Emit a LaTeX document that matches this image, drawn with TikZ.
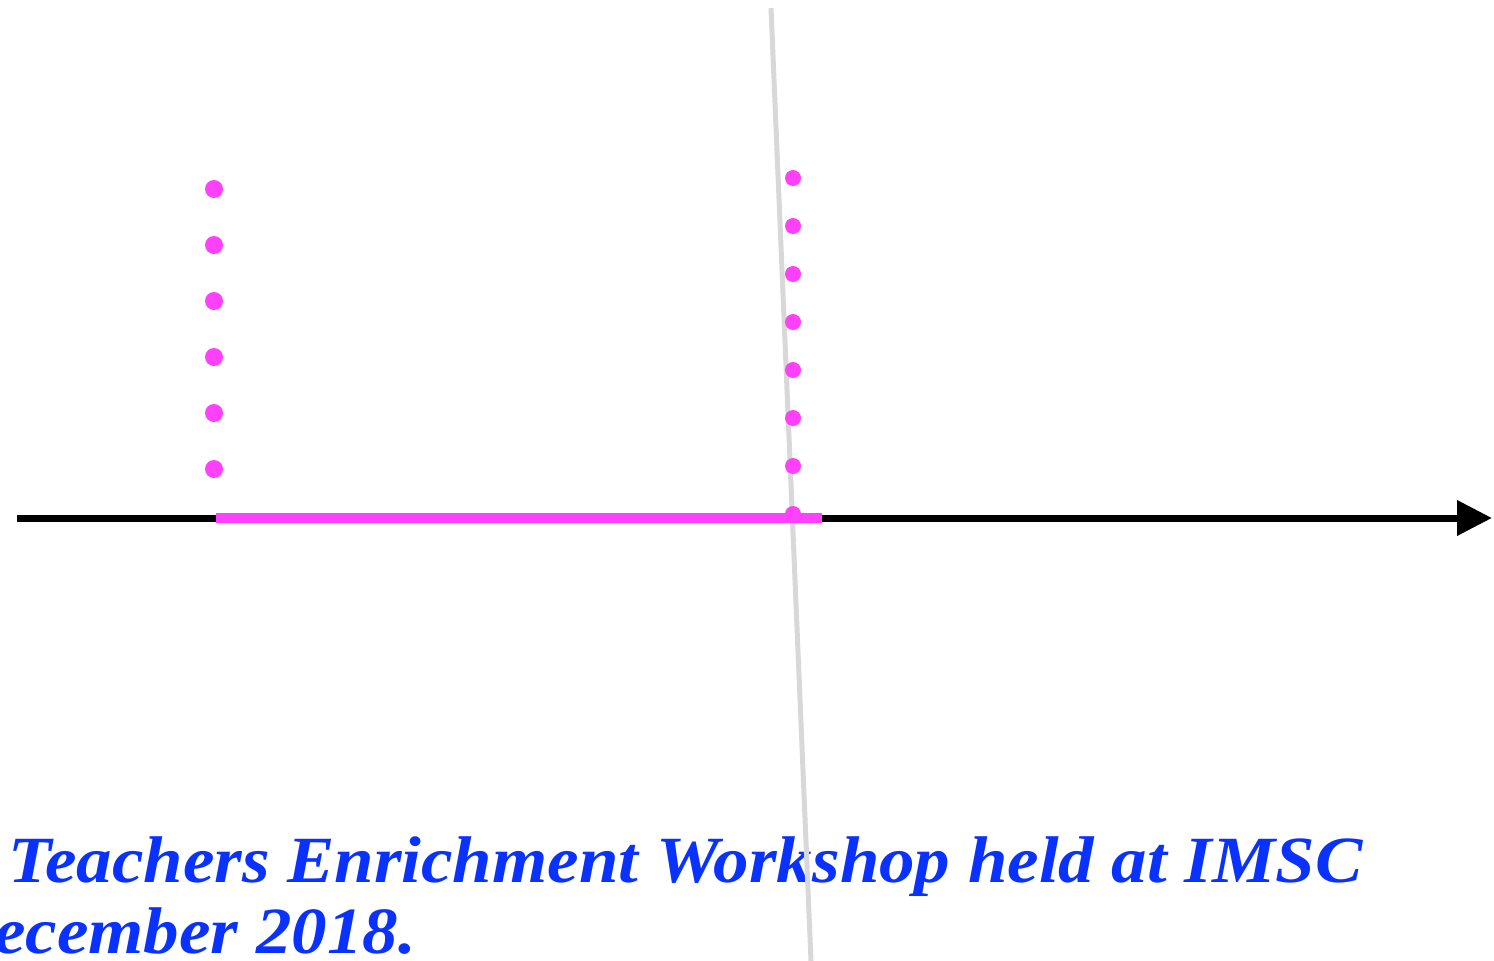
\documentclass[tikz,border=0pt]{standalone}
\usepackage{fontspec}
\setmainfont{Liberation Serif}
\usepackage{tikz}
\usepackage{xcolor}
\usetikzlibrary{arrows.meta}
\definecolor{dotpink}{RGB}{255,64,255}
\definecolor{titleblue}{RGB}{10,50,255}
\definecolor{rulegrey}{RGB}{216,216,216}

\begin{document}
\begin{tikzpicture}[x=1pt,y=-1pt,
  dot/.style={circle, fill=dotpink, inner sep=0pt, minimum size=#1},
  caption/.style={anchor=base west, inner sep=0pt, text=titleblue, xscale=1.075,
    font=\fontsize{66}{71}\selectfont\bfseries\itshape}]
\useasboundingbox (0,0) rectangle (1494,961);
\clip (0,0) rectangle (1494,961);
% Caption
\node[caption] (capa) at (8,882) {Teachers Enrichment Workshop held at IMSC};
\node[caption] (capb) at (-6,953) {ecember 2018.};

% Grey line
\coordinate (gtop) at (771,8);
\coordinate (gbot) at (811,961);
\draw[rulegrey, line width=5pt] (gtop) -- (gbot);

% Number line
\coordinate (axl) at (17,518);
\coordinate (axr) at (1492,518);
\draw[line width=7pt, -{Triangle[length=35pt,width=34pt]}] (axl) -- (axr);
\coordinate (seg1) at (216,518);
\coordinate (seg2) at (822,518);
\draw[dotpink, line width=10pt] (seg1) -- (seg2);

% Dots
\foreach \y [count=\n] in {189,245,...,469}
  \node[dot=18pt] (left\n) at (214,\y) {};
\foreach \y [count=\n] in {178,226,...,514}
  \node[dot=16pt] (right\n) at (793,\y) {};
\end{tikzpicture}
\end{document}
